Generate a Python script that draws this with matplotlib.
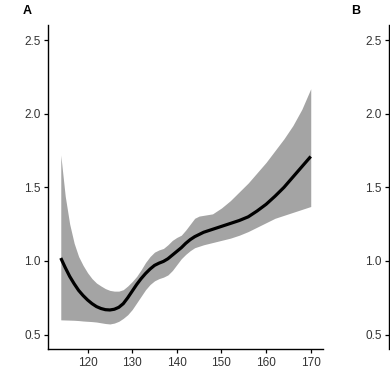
import matplotlib
matplotlib.use('Agg')
import matplotlib.pyplot as plt

plt.rcParams['font.family'] = ['Liberation Sans', 'DejaVu Sans']

# Panel A: fitted curve with confidence band
x_fit = [114, 115, 116, 117, 118, 119, 120, 121, 122, 123, 124, 125, 126, 127,
         128, 129, 130, 131, 132, 133, 134, 135, 136, 137, 138, 139, 140, 141,
         142, 143, 144, 145, 146, 148, 150, 152, 154, 156, 158, 160, 162, 164,
         166, 168, 170]
y_fit = [1.02, 0.955, 0.895, 0.845, 0.80, 0.765, 0.735, 0.71, 0.69, 0.677,
         0.669, 0.667, 0.672, 0.685, 0.71, 0.75, 0.795, 0.84, 0.88, 0.915,
         0.945, 0.97, 0.985, 0.997, 1.015, 1.04, 1.065, 1.09, 1.12, 1.145,
         1.165, 1.18, 1.195, 1.215, 1.235, 1.255, 1.275, 1.30, 1.34, 1.385,
         1.44, 1.50, 1.57, 1.64, 1.71]
y_upper = [1.72, 1.44, 1.25, 1.12, 1.03, 0.97, 0.92, 0.88, 0.85, 0.83, 0.812,
           0.80, 0.795, 0.795, 0.805, 0.83, 0.86, 0.895, 0.94, 0.99, 1.03,
           1.06, 1.075, 1.085, 1.11, 1.14, 1.16, 1.175, 1.21, 1.25, 1.29,
           1.305, 1.31, 1.32, 1.36, 1.41, 1.47, 1.53, 1.60, 1.67, 1.75, 1.83,
           1.92, 2.03, 2.17]
y_lower = [0.60, 0.599, 0.598, 0.597, 0.595, 0.592, 0.59, 0.588, 0.585, 0.58,
           0.575, 0.572, 0.578, 0.59, 0.61, 0.635, 0.67, 0.715, 0.76, 0.805,
           0.84, 0.865, 0.88, 0.89, 0.905, 0.935, 0.975, 1.015, 1.045, 1.07,
           1.09, 1.10, 1.11, 1.125, 1.14, 1.155, 1.175, 1.20, 1.23, 1.26, 1.29,
           1.31, 1.33, 1.35, 1.37]

x_ticks = [120, 130, 140, 150, 160, 170]
y_ticks = [0.5, 1.0, 1.5, 2.0, 2.5]

fig = plt.figure(figsize=(3.9, 3.92), dpi=100)

ax_a = fig.add_axes([0.1238, 0.109, 0.705, 0.826])
ax_b = fig.add_axes([0.9974, 0.109, 0.705, 0.826])

ax_a.fill_between(x_fit, y_lower, y_upper, color='#a4a4a4', linewidth=0)
ax_a.plot(x_fit, y_fit, color='black', linewidth=2.3, solid_capstyle='butt')

for ax in (ax_a, ax_b):
    ax.set_ylim(0.4, 2.6)
    ax.set_yticks(y_ticks)
    ax.set_yticklabels(['%.1f' % v for v in y_ticks])
    ax.spines['top'].set_visible(False)
    ax.spines['right'].set_visible(False)
    ax.spines['left'].set_linewidth(1.0)
    ax.spines['bottom'].set_linewidth(1.0)
    ax.tick_params(axis='both', length=2.8, width=0.9, color='black',
                   labelsize=8.5, labelcolor='#333333', pad=2.5)

ax_a.set_xlim(111.2, 172.8)
ax_a.set_xticks(x_ticks)

ax_b.set_xlim(111.2, 172.8)
ax_b.set_xticks([])
ax_b.spines['bottom'].set_visible(False)

fig.text(27 / 390, 1 - 11 / 392, 'A', fontsize=9, fontweight='bold',
         ha='center', va='center')
fig.text(356 / 390, 1 - 11 / 392, 'B', fontsize=9, fontweight='bold',
         ha='center', va='center')

fig.savefig('out.png', dpi=100)
